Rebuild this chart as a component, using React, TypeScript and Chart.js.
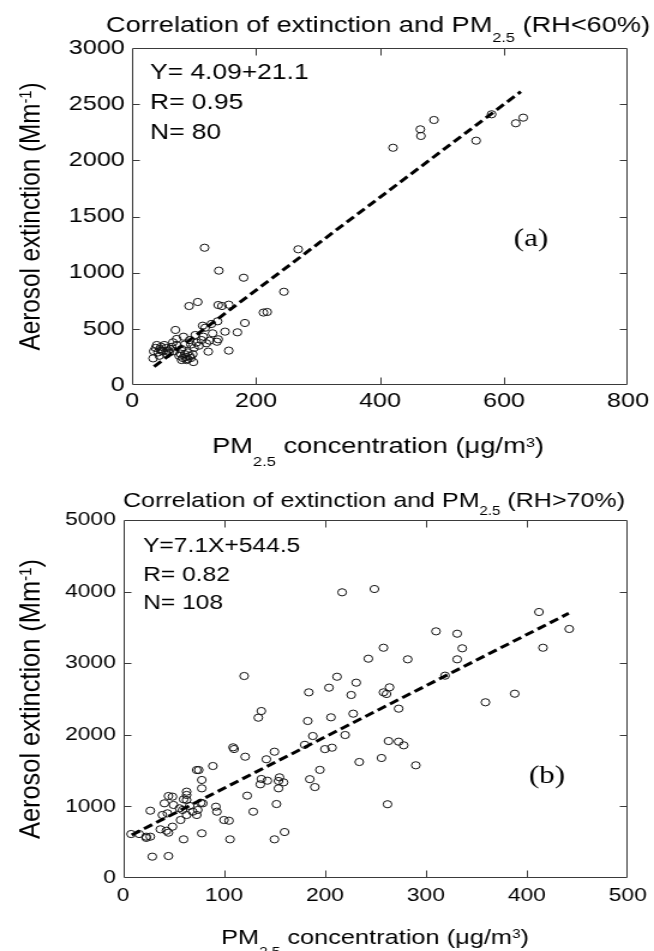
import React, { useEffect, useRef } from 'react';
import { Chart, registerables } from 'chart.js';

Chart.register(...registerables);

// The reference picture is stretched horizontally (circles are ellipses), so the
// canvases are drawn at 545px wide and displayed at 654px.
const SX = 1.2;
const W_DISPLAY = 654;
const W_INTERNAL = Math.round(W_DISPLAY / SX);

const FONT = '"Liberation Sans", Arial, Helvetica, sans-serif';
const SERIF = '"Liberation Serif", "Times New Roman", serif';

// ---------------- Panel (a): RH < 60% ----------------
const pmA = [
  421, 465, 466, 487, 555, 580, 619, 631, 245, 268,
  212, 218, 117, 140, 180, 92, 106, 139, 145, 156,
  70, 114, 128, 118, 138, 182, 170, 150, 156, 139,
  137, 123, 104, 93, 83, 72, 102, 115, 120, 40,
  47, 52, 34, 42, 58, 64, 72, 80, 80, 88,
  93, 99, 85, 56, 47, 38, 45, 50, 55, 62,
  35, 44, 60, 68, 76, 82, 86, 90, 95, 78,
  90, 98, 100, 108, 112, 125, 130, 95, 66, 85,
];
const extA = [
  2112, 2276, 2217, 2359, 2175, 2410, 2330, 2380, 830, 1208,
  645, 650, 1222, 1018, 955, 703, 739, 712, 703, 715,
  490, 528, 543, 510, 567, 552, 469, 475, 306, 407,
  385, 297, 377, 400, 430, 410, 445, 430, 371, 356,
  340, 356, 237, 290, 306, 340, 356, 320, 222, 222,
  258, 204, 275, 275, 306, 330, 320, 300, 330, 320,
  300, 260, 290, 300, 260, 240, 250, 230, 240, 280,
  290, 275, 330, 350, 400, 395, 460, 360, 380, 360,
];
const fitAx = [35.5, 627];
const fitAy = [163, 2611];
const xTicksA = [0, 200, 400, 600, 800];
const yTicksA = [0, 500, 1000, 1500, 2000, 2500, 3000];

// ---------------- Panel (b): RH > 70% ----------------
const pmB = [
  217, 249, 412, 442, 416, 310, 331, 336, 331, 319,
  258, 243, 282, 212, 204, 231, 226, 258, 261, 264,
  273, 206, 228, 220, 207, 263, 273, 278, 234, 256,
  290, 359, 388, 262, 120, 184, 137, 134, 183, 188,
  109, 110, 121, 150, 142, 89, 73, 75, 78, 137,
  136, 143, 155, 154, 159, 154, 78, 63, 63, 123,
  45, 49, 41, 50, 60, 63, 79, 77, 92, 93,
  56, 59, 66, 69, 73, 74, 63, 57, 39, 44,
  27, 49, 37, 45, 43, 100, 105, 129, 152, 78,
  60, 106, 150, 160, 8, 16, 23, 27, 23, 29,
  45, 180, 185, 190, 195, 200,
];
const extB = [
  3990, 4036, 3715, 3478, 3216, 3445, 3412, 3208, 3054, 2826,
  3216, 3063, 3054, 2811, 2658, 2728, 2556, 2593, 2570, 2663,
  2365, 2244, 2295, 1997, 1820, 1913, 1904, 1853, 1620, 1676,
  1574, 2454, 2574, 1030, 2821, 2593, 2332, 2239, 2193, 1983,
  1825, 1801, 1694, 1764, 1658, 1564, 1508, 1508, 1369, 1383,
  1308, 1359, 1406, 1355, 1336, 1252, 1252, 1206, 1160, 1150,
  1145, 1136, 1043, 1020, 1099, 1090, 1043, 1050, 996, 926,
  973, 950, 1006, 926, 880, 950, 880, 810, 880, 903,
  940, 717, 680, 633, 660, 810, 800, 926, 1033, 624,
  540, 540, 540, 642, 614, 614, 577, 577, 560, 298,
  307, 1860, 1380, 1270, 1510, 1800,
];
const fitBx = [8.6, 441.5];
const fitBy = [600, 3697];
const xTicksB = [0, 100, 200, 300, 400, 500];
const yTicksB = [0, 1000, 2000, 3000, 4000, 5000];

type Seg = { t: string; k?: number; dy?: number };

function drawRich(
  ctx: CanvasRenderingContext2D,
  segs: Seg[],
  x: number,
  y: number,
  size: number,
  opt: { fit?: number; center?: boolean; rotate?: boolean; family?: string } = {}
) {
  const fam = opt.family || FONT;
  let w = 0;
  const widths = segs.map((s) => {
    ctx.font = `${size * (s.k || 1)}px ${fam}`;
    const m = ctx.measureText(s.t).width;
    w += m;
    return m;
  });
  const sc = opt.fit ? opt.fit / w : 1;
  ctx.save();
  ctx.translate(x, y);
  if (opt.rotate) ctx.rotate(-Math.PI / 2);
  if (opt.center) ctx.translate((-w * sc) / 2, 0);
  ctx.scale(sc, 1);
  ctx.fillStyle = '#000';
  ctx.textAlign = 'left';
  ctx.textBaseline = 'alphabetic';
  let cx = 0;
  segs.forEach((s, i) => {
    ctx.font = `${size * (s.k || 1)}px ${fam}`;
    ctx.fillText(s.t, cx, s.dy || 0);
    cx += widths[i];
  });
  ctx.restore();
}

type PanelCfg = {
  xs: number[];
  ys: number[];
  fx: number[];
  fy: number[];
  xTicks: number[];
  yTicks: number[];
  height: number;
  top: number;
  padTop: number;
  padRight: number;
  yAxisW: number;
  xAxisH: number;
  tickSize: number;
  xPad: number;
  yPad: number;
  title: { segs: Seg[]; x: number; y: number; size: number; fit: number };
  xTitle: { segs: Seg[]; x: number; y: number; size: number; fit: number };
  yTitle: { x: number; size: number; fit: number };
  stats: { lines: string[]; x: number; y0: number; dy: number; size: number };
  label: { t: string; x: number; y: number; size: number };
};

const yTitleSegs: Seg[] = [
  { t: 'Aerosol extinction (Mm' },
  { t: '-1', k: 0.6, dy: -7 },
  { t: ')' },
];

const TOP_H = 476;
const B_TOP = TOP_H;
const B_H = 951 - TOP_H;

const panelA: PanelCfg = {
  xs: pmA,
  ys: extA,
  fx: fitAx,
  fy: fitAy,
  xTicks: xTicksA,
  yTicks: yTicksA,
  height: TOP_H,
  top: 0,
  padTop: 48,
  padRight: W_INTERNAL - 628 / SX,
  yAxisW: 132 / SX,
  xAxisH: TOP_H - 385,
  tickSize: 21,
  xPad: 4,
  yPad: 6,
  title: {
    segs: [
      { t: 'Correlation of extinction and PM' },
      { t: '2.5', k: 0.6, dy: 10 },
      { t: ' (RH<60%)' },
    ],
    x: 106 / SX,
    y: 32,
    size: 22,
    fit: (650 - 106) / SX,
  },
  xTitle: {
    segs: [
      { t: 'PM' },
      { t: '2.5', k: 0.6, dy: 13 },
      { t: ' concentration (\u03BCg/m' },
      { t: '3', k: 0.6, dy: -6 },
      { t: ')' },
    ],
    x: 212 / SX,
    y: 453,
    size: 22,
    fit: (544 - 212) / SX,
  },
  yTitle: { x: 40 / SX, size: 24, fit: 268 },
  stats: { lines: ['Y= 4.09+21.1', 'R= 0.95', 'N= 80'], x: 150 / SX, y0: 79, dy: 30, size: 22 },
  label: { t: '(a)', x: 531 / SX, y: 246, size: 26 },
};

const panelB: PanelCfg = {
  xs: pmB,
  ys: extB,
  fx: fitBx,
  fy: fitBy,
  xTicks: xTicksB,
  yTicks: yTicksB,
  height: B_H,
  top: B_TOP,
  padTop: 520 - B_TOP,
  padRight: W_INTERNAL - 630 / SX,
  yAxisW: 123 / SX,
  xAxisH: 951 - 878,
  tickSize: 19,
  xPad: 6,
  yPad: 6,
  title: {
    segs: [
      { t: 'Correlation of extinction and PM' },
      { t: '2.5', k: 0.6, dy: 8 },
      { t: ' (RH>70%)' },
    ],
    x: 123 / SX,
    y: 507 - B_TOP,
    size: 21,
    fit: (625 - 123) / SX,
  },
  xTitle: {
    segs: [
      { t: 'PM' },
      { t: '2.5', k: 0.6, dy: 12 },
      { t: ' concentration (\u03BCg/m' },
      { t: '3', k: 0.6, dy: -6 },
      { t: ')' },
    ],
    x: 221 / SX,
    y: 944 - B_TOP,
    size: 21,
    fit: (529 - 221) / SX,
  },
  yTitle: { x: 40 / SX, size: 24, fit: 280 },
  stats: { lines: ['Y=7.1X+544.5', 'R= 0.82', 'N= 108'], x: 143 / SX, y0: 552 - B_TOP, dy: 28.5, size: 20.5 },
  label: { t: '(b)', x: 547 / SX, y: 783 - B_TOP, size: 26 },
};

function makeConfig(p: PanelCfg): any {
  const framePlugin = {
    id: 'frameAndText',
    afterDraw(chart: any) {
      const { ctx, chartArea: a, scales } = chart;
      const L = Math.round(a.left) + 0.5;
      const R = Math.round(a.right) - 0.5;
      const T = Math.round(a.top) + 0.5;
      const B = Math.round(a.bottom) - 0.5;
      ctx.save();
      ctx.strokeStyle = '#3a3a3a';
      ctx.lineWidth = 1;
      ctx.beginPath();
      ctx.rect(L, T, R - L, B - T);
      const tlx = 7;
      const tly = 6;
      p.xTicks.forEach((v, i) => {
        if (i === 0 || i === p.xTicks.length - 1) return;
        const x = Math.round(scales.x.getPixelForValue(v)) + 0.5;
        ctx.moveTo(x, B);
        ctx.lineTo(x, B - tlx);
        ctx.moveTo(x, T);
        ctx.lineTo(x, T + tlx);
      });
      p.yTicks.forEach((v, i) => {
        if (i === 0 || i === p.yTicks.length - 1) return;
        const y = Math.round(scales.y.getPixelForValue(v)) + 0.5;
        ctx.moveTo(L, y);
        ctx.lineTo(L + tly, y);
        ctx.moveTo(R, y);
        ctx.lineTo(R - tly, y);
      });
      ctx.stroke();
      ctx.restore();

      drawRich(ctx, p.title.segs, p.title.x, p.title.y, p.title.size, { fit: p.title.fit });
      drawRich(ctx, p.xTitle.segs, p.xTitle.x, p.xTitle.y, p.xTitle.size, { fit: p.xTitle.fit });
      drawRich(ctx, yTitleSegs, p.yTitle.x, (a.top + a.bottom) / 2, p.yTitle.size, {
        fit: p.yTitle.fit,
        center: true,
        rotate: true,
      });
      p.stats.lines.forEach((s, i) => {
        drawRich(ctx, [{ t: s }], p.stats.x, p.stats.y0 + i * p.stats.dy, p.stats.size);
      });
      drawRich(ctx, [{ t: p.label.t }], p.label.x, p.label.y, p.label.size, {
        center: true,
        family: SERIF,
      });
    },
  };

  const tickFont = { family: FONT, size: p.tickSize };
  const plain = (v: any) => String(v);

  return {
    type: 'scatter',
    data: {
      datasets: [
        {
          label: 'fit',
          data: p.fx.map((x, i) => ({ x, y: p.fy[i] })),
          showLine: true,
          borderColor: '#000',
          borderWidth: 3,
          borderDash: [8, 4],
          pointRadius: 0,
          fill: false,
        },
        {
          label: 'obs',
          data: p.xs.map((x, i) => ({ x, y: p.ys[i] })),
          pointStyle: 'circle',
          pointRadius: 3.6,
          pointBorderWidth: 1,
          borderColor: '#111',
          backgroundColor: 'rgba(0,0,0,0)',
          pointBackgroundColor: 'rgba(0,0,0,0)',
          pointBorderColor: '#111',
          showLine: false,
        },
      ],
    },
    options: {
      responsive: false,
      maintainAspectRatio: false,
      animation: false,
      devicePixelRatio: 1,
      layout: { padding: { top: p.padTop, right: p.padRight, left: 0, bottom: 0 } },
      plugins: { legend: { display: false }, tooltip: { enabled: false }, title: { display: false } },
      scales: {
        x: {
          type: 'linear',
          min: p.xTicks[0],
          max: p.xTicks[p.xTicks.length - 1],
          grid: { display: false, drawTicks: false },
          border: { display: false },
          ticks: { font: tickFont, color: '#000', padding: p.xPad, maxRotation: 0, autoSkip: false, callback: plain },
          afterBuildTicks: (s: any) => {
            s.ticks = p.xTicks.map((v) => ({ value: v }));
          },
          afterFit: (s: any) => {
            s.height = p.xAxisH;
          },
        },
        y: {
          type: 'linear',
          min: p.yTicks[0],
          max: p.yTicks[p.yTicks.length - 1],
          grid: { display: false, drawTicks: false },
          border: { display: false },
          ticks: { font: tickFont, color: '#000', padding: p.yPad, autoSkip: false, callback: plain },
          afterBuildTicks: (s: any) => {
            s.ticks = p.yTicks.map((v) => ({ value: v }));
          },
          afterFit: (s: any) => {
            s.width = p.yAxisW;
          },
        },
      },
    },
    plugins: [framePlugin],
  };
}

function Panel({ cfg }: { cfg: PanelCfg }) {
  const ref = useRef<HTMLCanvasElement>(null);
  useEffect(() => {
    if (!ref.current) return;
    const chart = new Chart(ref.current, makeConfig(cfg));
    return () => chart.destroy();
  }, [cfg]);
  return (
    <canvas
      ref={ref}
      width={W_INTERNAL}
      height={cfg.height}
      style={{
        position: 'absolute',
        left: 0,
        top: cfg.top,
        width: `${W_DISPLAY}px`,
        height: `${cfg.height}px`,
      }}
    />
  );
}

export default function App() {
  return (
    <div
      style={{
        position: 'absolute',
        left: 0,
        top: 0,
        width: `${W_DISPLAY}px`,
        height: '951px',
        background: '#fff',
        overflow: 'hidden',
      }}
    >
      <Panel cfg={panelA} />
      <Panel cfg={panelB} />
    </div>
  );
}
